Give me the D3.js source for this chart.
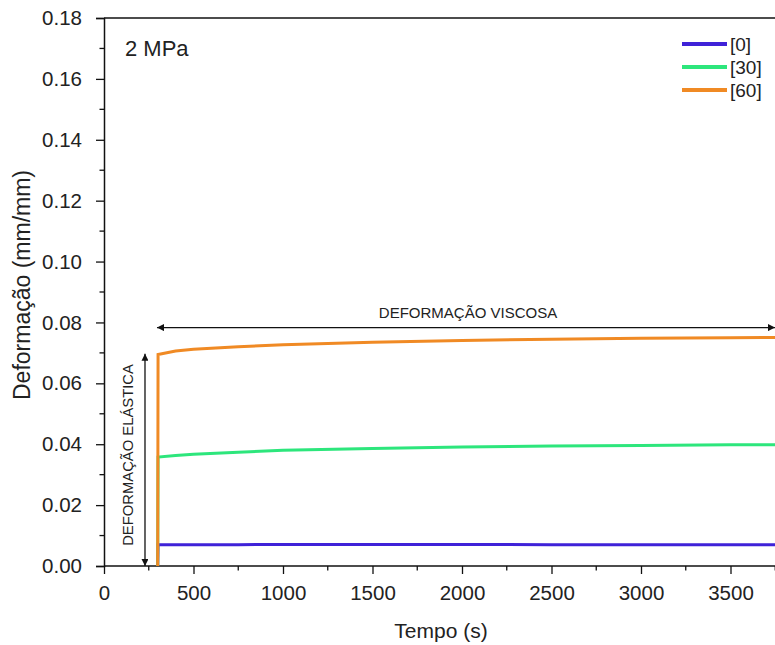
<!DOCTYPE html>
<html><head><meta charset="utf-8">
<script src="https://cdn.jsdelivr.net/npm/d3@7"></script>
<style>body{margin:0;background:#fff;overflow:hidden}text{font-family:"Liberation Sans",Arial,sans-serif;fill:#222}</style>
</head><body><svg id="c" width="775" height="645"></svg>
<script>
const seriesNames = ["[0]", "[30]", "[60]"];
const seriesColors = ["#3f22d8", "#2de67c", "#f08a24"];
const times = [300, 302, 400, 500, 750, 1000, 1500, 2000, 2500, 3000, 3500, 3900];
const strain0  = [0, 0.0070, 0.0070, 0.0070, 0.0070, 0.0071, 0.0071, 0.0071, 0.0070, 0.0070, 0.0070, 0.0070];
const strain30 = [0, 0.0358, 0.0363, 0.0367, 0.0374, 0.0380, 0.0386, 0.0391, 0.0394, 0.0396, 0.0398, 0.0399];
const strain60 = [0, 0.0695, 0.0706, 0.0712, 0.0720, 0.0727, 0.0735, 0.0741, 0.0745, 0.0748, 0.0750, 0.0751];
const xTicks = [0, 500, 1000, 1500, 2000, 2500, 3000, 3500];
const yTicks = [0, 0.02, 0.04, 0.06, 0.08, 0.10, 0.12, 0.14, 0.16, 0.18];

const svg = d3.select("#c");
const L = 104, T = 18, B = 566;
const x = d3.scaleLinear().domain([0, 3900]).range([L, L + 3900 * 0.179]);
const y = d3.scaleLinear().domain([0, 0.18]).range([B, T]);
const FONT = '"Liberation Sans",Arial,sans-serif';

svg.append("line").attr("x1", L).attr("x2", 800).attr("y1", T).attr("y2", T).attr("stroke", "#111").attr("stroke-width", 1.5);

const xAxis = d3.axisBottom(x).tickValues(xTicks).tickFormat(d3.format("d")).tickSize(8).tickPadding(11);
const gx = svg.append("g").attr("transform", `translate(0,${B})`).call(xAxis);
const xMinor = d3.range(250, 3900, 500);
gx.selectAll(".minor").data(xMinor).enter().append("line").attr("x1", d=>x(d)).attr("x2", d=>x(d)).attr("y1",0).attr("y2",4.5).attr("stroke","#111").attr("stroke-width",1.3);
const yAxis = d3.axisLeft(y).tickValues(yTicks).tickFormat(d3.format(".2f")).tickSize(8).tickPadding(14);
const gy = svg.append("g").attr("transform", `translate(${L},0)`).call(yAxis);
const yMinor = d3.range(0.01, 0.18, 0.02);
gy.selectAll(".minor").data(yMinor).enter().append("line").attr("x1",0).attr("x2",-4.5).attr("y1",d=>y(d)).attr("y2",d=>y(d)).attr("stroke","#111").attr("stroke-width",1.3);
[gx, gy].forEach(g => {
  g.select(".domain").attr("stroke", "#111").attr("stroke-width", 1.5);
  g.selectAll(".tick line").attr("stroke", "#111").attr("stroke-width", 1.3);
  g.selectAll(".tick text").attr("font-size", 20.5).attr("fill", "#222").attr("font-family", FONT);
});
gx.select(".domain").attr("d", `M${L},0H800`);

const line = d3.line().x((d) => x(d[0])).y((d) => y(d[1]));
[strain0, strain30, strain60].forEach((s, i) => {
  svg.append("path").datum(times.map((t, j) => [t, s[j]]))
    .attr("d", line).attr("fill", "none").attr("stroke", seriesColors[i]).attr("stroke-width", 3);
});

const defs = svg.append("defs");
defs.append("marker").attr("id", "ah").attr("viewBox", "0 0 10 10").attr("refX", 10).attr("refY", 5)
  .attr("markerWidth", 11).attr("markerHeight", 7).attr("markerUnits", "userSpaceOnUse").attr("orient", "auto-start-reverse")
  .append("path").attr("d", "M0,0L10,5L0,10z").attr("fill", "#111");
svg.append("line").attr("x1", x(296)).attr("x2", 775).attr("y1", y(0.0783)).attr("y2", y(0.0783))
  .attr("stroke", "#111").attr("stroke-width", 1.3).attr("marker-start", "url(#ah)").attr("marker-end", "url(#ah)");
svg.append("text").attr("x", 468).attr("y", 318).attr("text-anchor", "middle").attr("font-size", 15).text("DEFORMAÇÃO VISCOSA");
svg.append("line").attr("x1", x(229)).attr("x2", x(229)).attr("y1", y(0.0697)).attr("y2", B)
  .attr("stroke", "#111").attr("stroke-width", 1.3).attr("marker-start", "url(#ah)").attr("marker-end", "url(#ah)");
svg.append("text").attr("transform", "translate(133,455) rotate(-90)").attr("text-anchor", "middle").attr("font-size", 14.8).text("DEFORMAÇÃO ELÁSTICA");

svg.append("text").attr("x", 125).attr("y", 56).attr("font-size", 22).text("2 MPa");
svg.append("text").attr("x", 441).attr("y", 638).attr("text-anchor", "middle").attr("font-size", 21).text("Tempo (s)");
svg.append("text").attr("transform", "translate(29.5,285) rotate(-90)").attr("text-anchor", "middle").attr("font-size", 23).text("Deformação (mm/mm)");

const legY = [44, 67, 90];
seriesNames.forEach((n, i) => {
  svg.append("line").attr("x1", 682).attr("x2", 727).attr("y1", legY[i]).attr("y2", legY[i]).attr("stroke", seriesColors[i]).attr("stroke-width", 4);
  svg.append("text").attr("x", 730).attr("y", legY[i] + 7).attr("font-size", 19).text(n);
});
</script></body></html>
